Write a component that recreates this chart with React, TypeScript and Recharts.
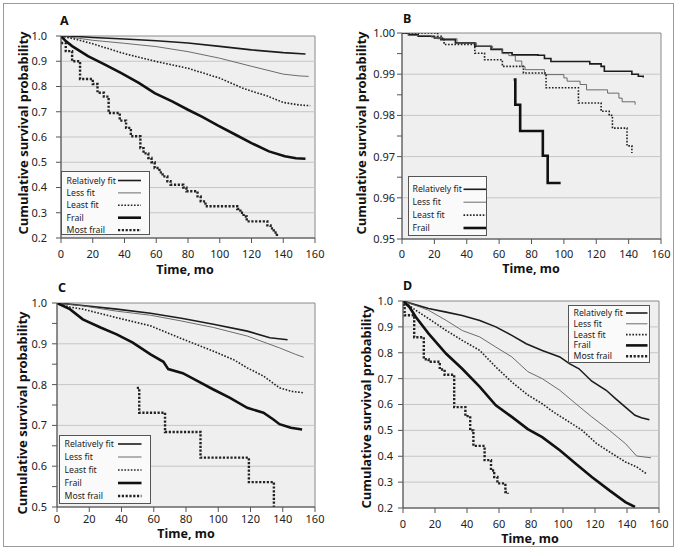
import React from 'react';
import { LineChart, Line, XAxis, YAxis, ReferenceArea, ReferenceLine } from 'recharts';

type Pt = [number, number];

// group names, shared by all panels
const GROUPS = ['Relatively fit', 'Less fit', 'Least fit', 'Frail', 'Most frail'];

// axis ticks
const X_TICKS = [0, 20, 40, 60, 80, 100, 120, 140, 160];
const A_Y_TICKS = [0.2, 0.3, 0.4, 0.5, 0.6, 0.7, 0.8, 0.9, 1.0];
const B_Y_TICKS = [0.95, 0.96, 0.97, 0.98, 0.99, 1.0];
const B_Y_MINOR = [0.955, 0.965, 0.975, 0.985, 0.995];
const C_Y_TICKS = [0.5, 0.6, 0.7, 0.8, 0.9, 1.0];
const C_Y_MINOR = [0.55, 0.65, 0.75, 0.85, 0.95];
const D_Y_TICKS = [0.2, 0.3, 0.4, 0.5, 0.6, 0.7, 0.8, 0.9, 1.0];

// panel A: [time (mo), cumulative survival]
const A_REL_FIT: Pt[] = [[0, 1], [10, 0.998], [20, 0.994], [40, 0.988], [60, 0.981], [80, 0.972], [100, 0.959], [120, 0.945], [140, 0.934], [154, 0.929]];
const A_LESS_FIT: Pt[] = [[0, 1], [10, 0.992], [20, 0.983], [40, 0.971], [60, 0.958], [80, 0.938], [100, 0.912], [120, 0.88], [140, 0.849], [150, 0.842], [156, 0.84]];
const A_LEAST_FIT: Pt[] = [[0, 1], [10, 0.986], [20, 0.969], [40, 0.93], [60, 0.899], [80, 0.872], [100, 0.833], [115, 0.792], [130, 0.762], [140, 0.737], [150, 0.727], [157, 0.724]];
const A_FRAIL: Pt[] = [[0, 1], [3, 0.98], [7, 0.96], [17, 0.92], [28, 0.886], [38, 0.853], [49, 0.814], [59, 0.774], [70, 0.741], [80, 0.708], [89, 0.68], [99, 0.645], [110, 0.609], [120, 0.576], [131, 0.543], [141, 0.524], [148, 0.516], [154, 0.514]];
const A_MOST_FRAIL: Pt[] = [[0, 0.972], [3, 0.94], [7, 0.9], [12, 0.83], [20, 0.81], [23, 0.775], [27, 0.76], [30, 0.695], [37, 0.665], [41, 0.636], [44, 0.603], [50, 0.556], [52, 0.535], [55, 0.517], [57, 0.5], [59, 0.477], [62, 0.46], [64, 0.444], [67, 0.425], [69, 0.411], [77, 0.4], [79, 0.385], [86, 0.365], [88, 0.345], [91, 0.326], [111, 0.315], [113, 0.3], [115, 0.285], [117, 0.266], [130, 0.25], [132, 0.238], [134, 0.222], [136, 0.208]];

// panel B
const B_REL_FIT: Pt[] = [[0, 1], [4, 0.9996], [10, 0.9992], [20, 0.9988], [24, 0.9984], [33, 0.9976], [45, 0.9968], [55, 0.996], [62, 0.9952], [68, 0.9947], [84, 0.9946], [88, 0.9938], [92, 0.9931], [114, 0.9931], [116, 0.9925], [123, 0.9919], [125, 0.9907], [140, 0.9907], [142, 0.99], [146, 0.9895], [149, 0.9892]];
const B_LESS_FIT: Pt[] = [[0, 1], [4, 0.9994], [18, 0.999], [22, 0.9986], [34, 0.9976], [46, 0.9968], [56, 0.9962], [62, 0.995], [66, 0.9945], [70, 0.9932], [74, 0.9918], [76, 0.9911], [88, 0.9899], [100, 0.9891], [102, 0.9883], [110, 0.9875], [114, 0.9862], [127, 0.9854], [134, 0.9842], [136, 0.9833], [144, 0.9826]];
const B_LEAST_FIT: Pt[] = [[0, 1], [20, 1], [22, 0.9992], [25, 0.9984], [26, 0.9972], [43, 0.9972], [45, 0.9951], [50, 0.9951], [51, 0.9935], [61, 0.9935], [62, 0.9919], [74, 0.9919], [75, 0.9903], [87, 0.9903], [89, 0.9867], [106, 0.9867], [109, 0.983], [121, 0.983], [123, 0.981], [128, 0.98], [130, 0.9769], [138, 0.9769], [139, 0.9726], [142, 0.9709]];
const B_FRAIL: Pt[] = [[69, 0.9887], [70, 0.9826], [73, 0.9762], [87, 0.9702], [90, 0.9636], [98, 0.9636]];

// panel C
const C_REL_FIT: Pt[] = [[0, 1], [16, 0.994], [37, 0.985], [58, 0.975], [78, 0.962], [97, 0.948], [118, 0.931], [132, 0.915], [143, 0.91]];
const C_LESS_FIT: Pt[] = [[0, 1], [16, 0.993], [37, 0.98], [58, 0.97], [77, 0.956], [97, 0.94], [118, 0.919], [138, 0.89], [148, 0.874], [153, 0.867]];
const C_LEAST_FIT: Pt[] = [[0, 1], [8, 0.99], [16, 0.985], [37, 0.964], [58, 0.944], [77, 0.913], [97, 0.882], [110, 0.86], [118, 0.841], [128, 0.821], [138, 0.792], [146, 0.783], [153, 0.78]];
const C_FRAIL: Pt[] = [[0, 1], [8, 0.985], [16, 0.96], [27, 0.94], [37, 0.923], [47, 0.903], [58, 0.874], [66, 0.856], [69, 0.838], [78, 0.828], [87, 0.809], [97, 0.788], [107, 0.768], [118, 0.743], [128, 0.731], [134, 0.715], [138, 0.703], [145, 0.694], [152, 0.69]];
const C_MOST_FRAIL: Pt[] = [[49.5, 0.792], [51, 0.731], [67, 0.684], [89, 0.621], [119, 0.561], [134.5, 0.5]];

// panel D
const D_REL_FIT: Pt[] = [[0, 1], [8, 0.985], [16, 0.971], [27, 0.957], [37, 0.944], [48, 0.925], [58, 0.9], [68, 0.867], [77, 0.835], [87, 0.809], [98, 0.784], [104, 0.758], [110, 0.738], [118, 0.69], [127, 0.655], [133, 0.622], [139, 0.59], [145, 0.558], [149, 0.549], [154, 0.541]];
const D_LESS_FIT: Pt[] = [[0, 1], [8, 0.983], [16, 0.964], [27, 0.925], [37, 0.886], [48, 0.861], [58, 0.822], [68, 0.784], [78, 0.727], [87, 0.7], [98, 0.655], [108, 0.603], [118, 0.552], [129, 0.5], [139, 0.449], [146, 0.401], [155, 0.394]];
const D_LEAST_FIT: Pt[] = [[0, 1], [8, 0.964], [16, 0.932], [27, 0.886], [37, 0.848], [48, 0.809], [58, 0.745], [68, 0.687], [78, 0.637], [87, 0.603], [94, 0.571], [104, 0.532], [112, 0.5], [121, 0.449], [129, 0.417], [139, 0.378], [146, 0.359], [152, 0.333]];
const D_FRAIL: Pt[] = [[0, 1], [4, 0.977], [8, 0.938], [16, 0.874], [27, 0.796], [37, 0.738], [48, 0.668], [58, 0.597], [68, 0.552], [78, 0.505], [87, 0.474], [98, 0.423], [108, 0.371], [118, 0.32], [129, 0.268], [139, 0.223], [145, 0.204]];
const D_MOST_FRAIL: Pt[] = [[0, 0.985], [1, 0.945], [7, 0.86], [13, 0.775], [16, 0.765], [23, 0.735], [26, 0.715], [32, 0.59], [39, 0.555], [42, 0.5], [44, 0.44], [51, 0.385], [55, 0.345], [57, 0.32], [59, 0.295], [64, 0.262], [65.5, 0.255]];

const FONT = "'Noto Sans', 'Open Sans', sans-serif";

const STYLES: Record<string, { stroke: string; strokeWidth: number; strokeDasharray?: string }> = {
  'Relatively fit': { stroke: '#1c1c1c', strokeWidth: 1.6 },
  'Less fit': { stroke: '#5c5c5c', strokeWidth: 0.9 },
  'Least fit': { stroke: '#222', strokeWidth: 1.6, strokeDasharray: '1.6 1.6' },
  'Frail': { stroke: '#111', strokeWidth: 2.6 },
  'Most frail': { stroke: '#222', strokeWidth: 2.4, strokeDasharray: '2.2 1.6' },
};

const toRows = (pts: Pt[]) => pts.map(([t, s]) => ({ t, s }));

interface Series {
  name: string;
  data: Pt[];
  step?: boolean;
}

interface PanelProps {
  left: number;
  top: number;
  margin: { top: number; right: number; bottom: number; left: number };
  yDomain: [number, number];
  yTicks: number[];
  yMinor?: number[];
  decimals: number;
  xTickMargin: number;
  yTickMargin: number;
  series: Series[];
}

function Panel({ left, top, margin, yDomain, yTicks, yMinor = [], decimals, xTickMargin, yTickMargin, series }: PanelProps) {
  const allTicks = [...yTicks, ...yMinor].sort((a, b) => a - b);
  const isMajor = (v: number) => yTicks.some((m) => Math.abs(m - v) < 1e-9);
  const grid = yTicks.filter((v) => v > yDomain[0] + 1e-9 && v < yDomain[1] - 1e-9);

  const renderYTick = (props: any) => {
    const { x, y, payload } = props;
    if (!isMajor(payload.value)) return <g />;
    return (
      <text x={x} y={y} dy="0.355em" textAnchor="end" fontSize={11} fill="#222" fontFamily={FONT}>
        {payload.value.toFixed(decimals)}
      </text>
    );
  };

  return (
    <div style={{ position: 'absolute', left, top }}>
      <LineChart width={340} height={278} margin={margin}>
        <XAxis
          dataKey="t"
          type="number"
          domain={[0, 160]}
          ticks={X_TICKS}
          interval={0}
          allowDataOverflow
          height={30}
          tickSize={5}
          tickMargin={xTickMargin}
          axisLine={{ stroke: '#555' }}
          tickLine={{ stroke: '#555' }}
          tick={{ fontSize: 11, fill: '#222', fontFamily: FONT }}
        />
        <YAxis
          type="number"
          domain={yDomain}
          ticks={allTicks}
          interval={0}
          allowDataOverflow
          width={40}
          tickSize={5}
          tickMargin={yTickMargin}
          axisLine={{ stroke: '#555' }}
          tickLine={{ stroke: '#555' }}
          tick={renderYTick}
        />
        <ReferenceArea x1={0} x2={160} y1={yDomain[0]} y2={yDomain[1]} fill="#efefef" fillOpacity={1} stroke="#8a8a8a" strokeWidth={1} />
        {grid.map((v) => (
          <ReferenceLine key={v} y={v} stroke="#c6c6c6" strokeWidth={1} />
        ))}
        {series.map((s) => (
          <Line
            key={s.name}
            data={toRows(s.data)}
            dataKey="s"
            type={s.step ? 'stepAfter' : 'linear'}
            dot={false}
            activeDot={false}
            isAnimationActive={false}
            {...STYLES[s.name]}
          />
        ))}
      </LineChart>
    </div>
  );
}

interface LegendProps {
  left: number;
  top: number;
  width: number;
  height: number;
  names: string[];
  firstRow: number;
  rowGap: number;
  padLeft: number;
  lineX1: number;
  lineX2: number;
  fontSize: number;
}

function LegendBox({ left, top, width, height, names, firstRow, rowGap, padLeft, lineX1, lineX2, fontSize }: LegendProps) {
  return (
    <svg style={{ position: 'absolute', left, top }} width={width} height={height}>
      <rect x={0.5} y={0.5} width={width - 1} height={height - 1} fill="#fafafa" stroke="#555" strokeWidth={1} />
      {names.map((n, i) => {
        const y = firstRow + i * rowGap;
        return (
          <g key={n}>
            <text x={padLeft} y={y} dy="0.35em" fontSize={fontSize} fill="#222" fontFamily={FONT}>
              {n}
            </text>
            <line x1={lineX1} x2={lineX2} y1={y} y2={y} {...STYLES[n]} />
          </g>
        );
      })}
    </svg>
  );
}

const boldText = (extra: React.CSSProperties): React.CSSProperties => ({
  position: 'absolute',
  fontFamily: FONT,
  fontWeight: 700,
  color: '#111',
  lineHeight: 1,
  whiteSpace: 'nowrap',
  ...extra,
});

function Titles({ letter, lx, ly, yx, yy, xx, xy }: { letter: string; lx: number; ly: number; yx: number; yy: number; xx: number; xy: number }) {
  return (
    <>
      <div style={boldText({ left: lx, top: ly, fontSize: 12.5, transform: 'translateY(-50%)' })}>{letter}</div>
      <div style={boldText({ left: yx, top: yy, fontSize: 13, transform: 'translate(-50%, -50%) rotate(-90deg)' })}>
        Cumulative survival probability
      </div>
      <div style={boldText({ left: xx, top: xy, fontSize: 12.5, transform: 'translate(-50%, -50%)' })}>Time, mo</div>
    </>
  );
}

export default function App() {
  return (
    <div style={{ position: 'absolute', left: 0, top: 0, width: 680, height: 556, background: '#fff', overflow: 'hidden' }}>
      <div
        style={{
          position: 'absolute',
          left: 3,
          top: 3,
          width: 671,
          height: 544,
          border: '1.5px solid #9a9a9a',
          boxSizing: 'border-box',
        }}
      />

      <Panel
        left={0}
        top={0}
        margin={{ top: 36, right: 25, bottom: 10, left: 21 }}
        yDomain={[0.2, 1.0]}
        yTicks={A_Y_TICKS}
        decimals={1}
        xTickMargin={7}
        yTickMargin={9}
        series={[
          { name: 'Relatively fit', data: A_REL_FIT },
          { name: 'Less fit', data: A_LESS_FIT },
          { name: 'Least fit', data: A_LEAST_FIT },
          { name: 'Frail', data: A_FRAIL },
          { name: 'Most frail', data: A_MOST_FRAIL, step: true },
        ]}
      />
      <Panel
        left={340}
        top={0}
        margin={{ top: 33, right: 19, bottom: 9, left: 22 }}
        yDomain={[0.95, 1.0]}
        yTicks={B_Y_TICKS}
        yMinor={B_Y_MINOR}
        decimals={2}
        xTickMargin={6}
        yTickMargin={2}
        series={[
          { name: 'Relatively fit', data: B_REL_FIT, step: true },
          { name: 'Less fit', data: B_LESS_FIT, step: true },
          { name: 'Least fit', data: B_LEAST_FIT, step: true },
          { name: 'Frail', data: B_FRAIL, step: true },
        ]}
      />
      <Panel
        left={0}
        top={278}
        margin={{ top: 25, right: 25, bottom: 19, left: 17 }}
        yDomain={[0.5, 1.0]}
        yTicks={C_Y_TICKS}
        yMinor={C_Y_MINOR}
        decimals={1}
        xTickMargin={3}
        yTickMargin={5}
        series={[
          { name: 'Relatively fit', data: C_REL_FIT },
          { name: 'Less fit', data: C_LESS_FIT },
          { name: 'Least fit', data: C_LEAST_FIT },
          { name: 'Frail', data: C_FRAIL },
          { name: 'Most frail', data: C_MOST_FRAIL, step: true },
        ]}
      />
      <Panel
        left={340}
        top={278}
        margin={{ top: 23, right: 21, bottom: 18, left: 23 }}
        yDomain={[0.2, 1.0]}
        yTicks={D_Y_TICKS}
        decimals={1}
        xTickMargin={7}
        yTickMargin={5}
        series={[
          { name: 'Relatively fit', data: D_REL_FIT },
          { name: 'Less fit', data: D_LESS_FIT },
          { name: 'Least fit', data: D_LEAST_FIT },
          { name: 'Frail', data: D_FRAIL },
          { name: 'Most frail', data: D_MOST_FRAIL, step: true },
        ]}
      />

      <LegendBox left={61} top={171} width={89} height={64} names={GROUPS} firstRow={9.5} rowGap={12.4} padLeft={5.5} lineX1={57} lineX2={80} fontSize={8.7} />
      <LegendBox left={408} top={176} width={79} height={60} names={GROUPS.slice(0, 4)} firstRow={13.3} rowGap={12.9} padLeft={4.5} lineX1={55.5} lineX2={78} fontSize={8.7} />
      <LegendBox left={59} top={435} width={92} height={69} names={GROUPS} firstRow={9} rowGap={13} padLeft={5.5} lineX1={59} lineX2={82.5} fontSize={8.7} />
      <LegendBox left={568} top={305} width={82} height={58} names={GROUPS} firstRow={8} rowGap={10.8} padLeft={5.5} lineX1={58} lineX2={79.5} fontSize={8.7} />

      <Titles letter="A" lx={60} ly={21} yx={23} yy={133} xx={185} xy={269.5} />
      <Titles letter="B" lx={403} ly={19} yx={361} yy={133} xx={531} xy={268.5} />
      <Titles letter="C" lx={58} ly={288} yx={22} yy={413} xx={186} xy={533.5} />
      <Titles letter="D" lx={403} ly={285.5} yx={366} yy={407} xx={530} xy={538.5} />
    </div>
  );
}
